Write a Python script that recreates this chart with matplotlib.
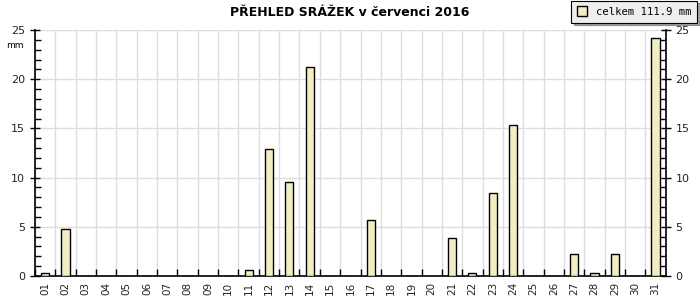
import matplotlib.pyplot as plt
from matplotlib.ticker import MultipleLocator, FixedLocator

# srazky v cervenci 2016 (mm)
days = ["%02d" % d for d in range(1, 32)]
rain = [0.3, 4.8, 0, 0, 0, 0, 0, 0, 0, 0, 0.6, 12.9, 9.6, 21.2, 0, 0, 5.7,
        0, 0, 0, 3.9, 0.3, 8.4, 15.3, 0, 0, 2.2, 0.3, 2.2, 0, 24.2]
total_label = "celkem 111.9 mm"
title = "PŘEHLED SRÁŽEK v červenci 2016"

fig = plt.figure(figsize=(7, 3), dpi=100)
ax = fig.add_axes([0.05, 0.08, 0.901, 0.82])

x = list(range(1, len(days) + 1))
bars = ax.bar(x, rain, width=0.4, color="#f3edc3", edgecolor="black", linewidth=1, zorder=3)

ax.set_xlim(0.5, len(days) + 0.5)
ax.set_ylim(0, 25)

# x: popisky na stredu, carky na hranicich
ax.set_xticks(x)
ax.set_xticklabels(days, rotation=90, fontsize=7.5, color="#222222")
ax.xaxis.set_minor_locator(FixedLocator([i + 0.5 for i in range(len(days))]))
ax.tick_params(axis="x", which="major", length=0, pad=4)
ax.tick_params(axis="x", which="minor", direction="in", length=5, width=1)
ax.grid(True, axis="x", which="minor", color="#dddddd", linewidth=1, zorder=0)

# y
ax.yaxis.set_major_locator(MultipleLocator(5))
ax.yaxis.set_minor_locator(MultipleLocator(1))
ax.tick_params(axis="y", which="major", direction="inout", length=7, width=1, labelsize=8,
               labelcolor="#222222", left=True, right=True, labelleft=True, labelright=True)
ax.tick_params(axis="y", which="minor", direction="in", length=4, width=1, left=True, right=True)
ax.grid(True, axis="y", which="major", color="#dddddd", linewidth=1, zorder=0)

ax.spines["top"].set_visible(False)
for s in ["left", "right", "bottom"]:
    ax.spines[s].set_linewidth(1.2)

ax.text(-0.045, 0.935, "mm", transform=ax.transAxes, fontsize=6.5, ha="left", va="center")

fig.text(0.5, 0.96, title, ha="center", va="center", fontsize=9, fontweight="bold")

leg = ax.legend([bars[0]], [total_label], loc="upper right", bbox_to_anchor=(0.996, 0.998),
                bbox_transform=fig.transFigure, prop={"family": "DejaVu Sans Mono", "size": 7.6},
                fancybox=False, shadow=True, framealpha=1, facecolor="#eeeeee", edgecolor="black",
                handlelength=1.0, handleheight=1.0, handletextpad=0.8, borderpad=0.55,
                borderaxespad=0)
leg.get_frame().set_linewidth(0.8)

fig.savefig("out.png", dpi=100)
